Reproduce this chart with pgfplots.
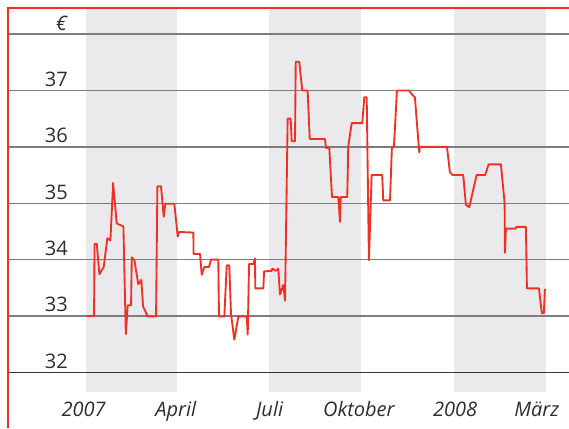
\documentclass[border=0pt]{standalone}
\usepackage{fontspec}
\setmainfont{Open Sans}
\usepackage{pgfplots}
\pgfplotsset{compat=1.18}
\definecolor{linered}{RGB}{238,49,36}
\definecolor{bandc}{RGB}{234,234,237}
\definecolor{gridc}{RGB}{125,125,125}
\definecolor{textc}{RGB}{45,45,45}
\begin{document}
\begin{tikzpicture}
\begin{axis}[
  scale only axis,
  width=426.75pt, height=321pt,
  xmin=-85.25, xmax=478.8,
  ymin=31.014, ymax=38.603,
  axis line style={draw=none},
  major tick length=0pt,
  xtick={-2.5,89,182,270.5,366,447},
  xticklabels={2007,April,Juli,Oktober,2008,März},
  ytick={32,33,34,35,36,37,38},
  yticklabels={32,33,34,35,36,37,\textit{€}},
  xticklabel style={font=\fontsize{15}{18}\selectfont\itshape, text=textc, anchor=base, inner sep=0pt, yshift=8.5pt},
  yticklabel style={font=\fontsize{15}{18}\selectfont, text=textc, anchor=base east, inner sep=0pt, xshift=51pt, yshift=3pt},
]
% quarter bands
\fill[bandc] (axis cs:0,31.653) rectangle (axis cs:90,38.461);
\fill[bandc] (axis cs:181,31.653) rectangle (axis cs:273,38.461);
\fill[bandc] (axis cs:365,31.653) rectangle (axis cs:456,38.461);
% grid lines
\pgfplotsinvokeforeach{33,34,35,36,37,38}{
  \draw[gridc, line width=1pt] (axis cs:-77.3,#1) -- (axis cs:478.8,#1);
}
\draw[black!80, line width=1pt] (axis cs:-77.3,32) -- (axis cs:478.8,32);
% price series
\addplot[linered, line width=1.4pt, line join=round, no marks] coordinates {
(0,33.0) (7.9,33.0) (8.4,34.28) (10.6,34.28) (13.2,33.74) (17.5,33.87)
(21.1,34.38) (24.1,34.34) (26.8,35.36) (30.4,34.64) (37.0,34.59) (39.4,32.68)
(41.3,33.19) (44.6,33.19) (45.3,34.04) (47.9,33.99) (51.8,33.56) (54.8,33.64)
(56.5,33.17) (61.2,32.99) (69.4,32.99) (70.7,35.30) (74.3,35.30) (77.0,34.76)
(78.6,34.99) (87.5,34.99) (90.9,34.41) (92.2,34.49) (106.4,34.48) (106.6,34.10)
(113.0,34.10) (114.7,33.73) (117.3,33.87) (121.9,33.87) (123.9,34.00) (131.1,34.00)
(131.8,32.99) (137.1,32.99) (139.5,33.90) (142.0,33.90) (143.7,33.04) (147.0,32.58)
(151.0,32.99) (159.3,32.99) (160.3,32.67) (161.6,33.92) (165.8,33.92) (167.5,34.02)
(167.8,33.49) (175.8,33.49) (176.5,33.79) (184.1,33.80) (184.7,33.84) (188.1,33.80)
(190.6,33.84) (192.3,33.38) (195.6,33.55) (197.3,33.27) (199.9,36.50) (202.9,36.50)
(203.9,36.10) (207.2,36.10) (207.9,37.51) (211.4,37.51) (214.4,37.00) (219.1,37.00)
(219.8,36.97) (221.8,36.14) (236.9,36.14) (237.9,35.98) (241.2,35.98) (243.9,35.11)
(250.1,35.11) (251.8,34.67) (252.5,35.11) (259.0,35.11) (260.0,36.01) (263.4,36.42)
(273.9,36.42) (275.9,36.88) (278.3,36.88) (280.5,33.99) (283.2,35.50) (293.7,35.50)
(294.7,35.05) (301.4,35.05) (303.3,36.00) (305.3,36.00) (308.3,37.00) (320.2,37.00)
(323.2,36.93) (326.1,36.88) (330.4,35.90) (331.1,36.00) (357.9,36.00) (360.8,35.55)
(363.5,35.50) (374.0,35.50) (376.7,34.97) (380.0,34.93) (387.3,35.50) (395.8,35.50)
(399.2,35.69) (411.4,35.69) (415.1,35.00) (415.4,34.12) (416.4,34.55) (426.0,34.55)
(426.6,34.58) (436.2,34.58) (437.2,33.49) (449.1,33.49) (452.0,33.05) (454.0,33.05)
(455.0,33.47) (456.0,33.47)
};
% red frame (top and left)
\draw[linered, line width=1.5pt] (axis cs:-77.3,31.014) -- (axis cs:-77.3,38.461) -- (axis cs:478.8,38.461);
\end{axis}
\end{tikzpicture}
\end{document}
